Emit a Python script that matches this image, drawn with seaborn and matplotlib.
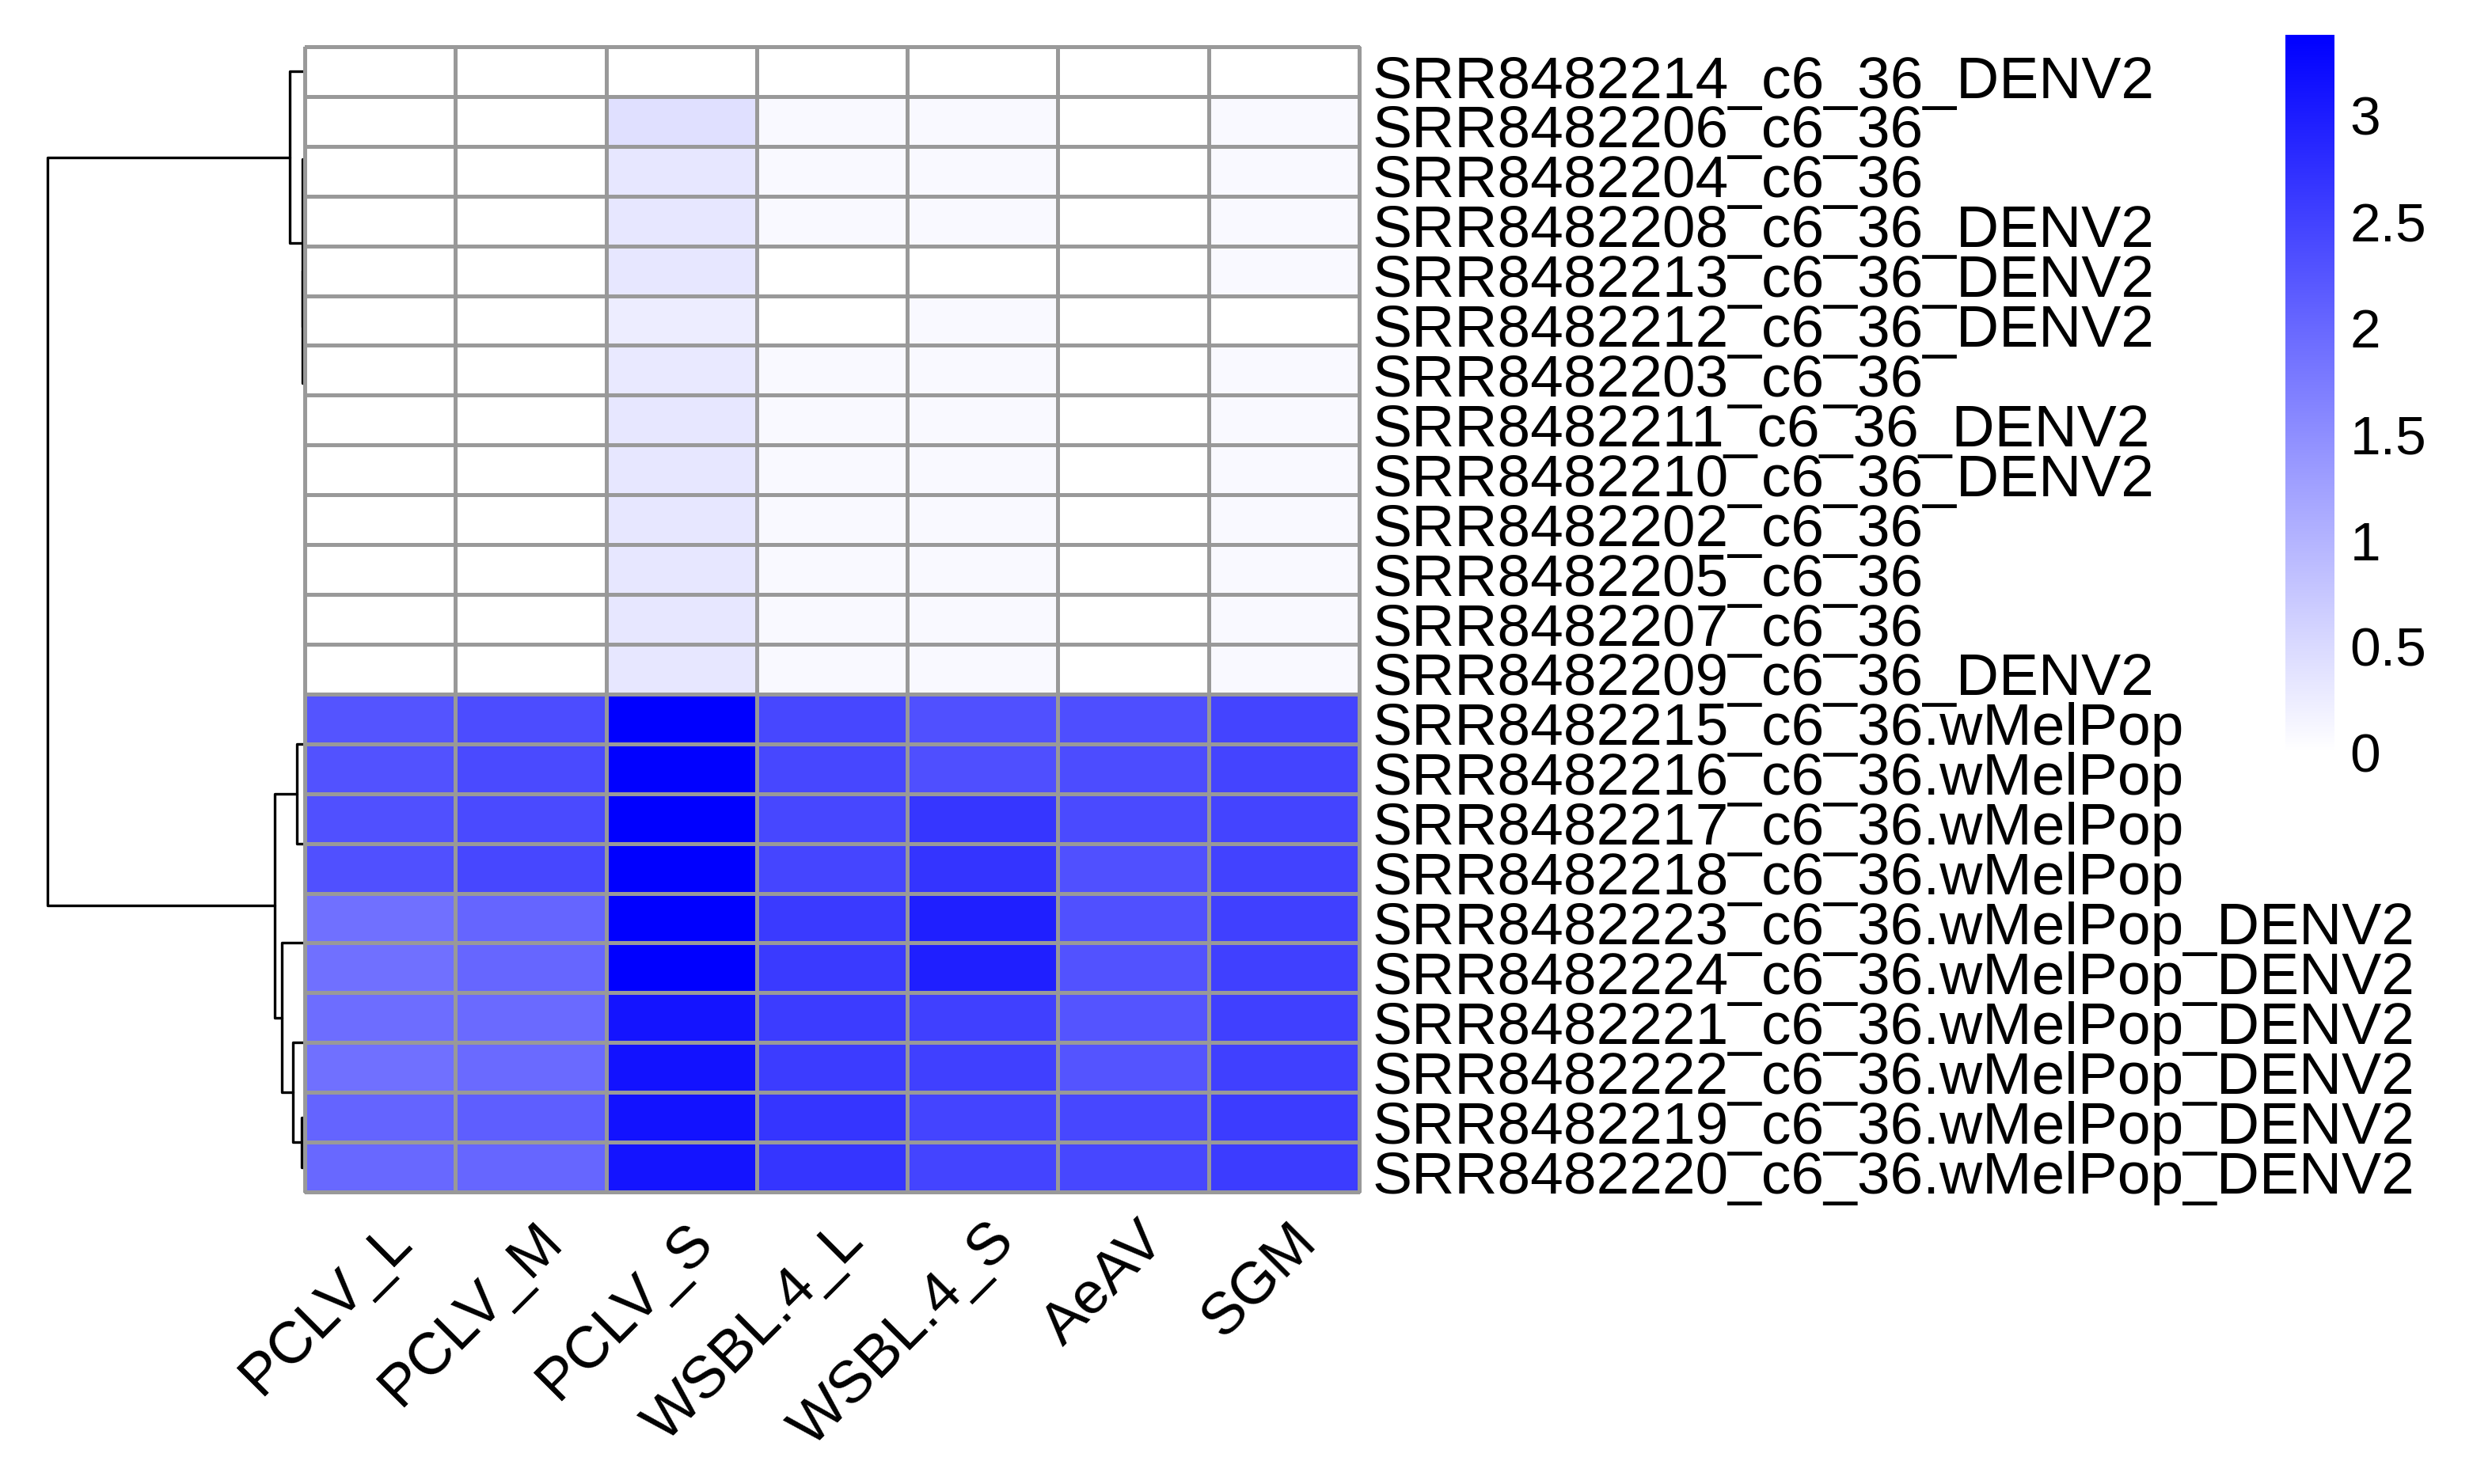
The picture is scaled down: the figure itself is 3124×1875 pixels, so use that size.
import numpy as np
import pandas as pd
import seaborn as sns
import matplotlib.pyplot as plt
from matplotlib.colors import LinearSegmentedColormap

# samples in the order shown (after clustering)
samples = [
    "SRR8482214_c6_36_DENV2", "SRR8482206_c6_36", "SRR8482204_c6_36",
    "SRR8482208_c6_36_DENV2", "SRR8482213_c6_36_DENV2", "SRR8482212_c6_36_DENV2",
    "SRR8482203_c6_36", "SRR8482211_c6_36_DENV2", "SRR8482210_c6_36_DENV2",
    "SRR8482202_c6_36", "SRR8482205_c6_36", "SRR8482207_c6_36",
    "SRR8482209_c6_36_DENV2", "SRR8482215_c6_36.wMelPop", "SRR8482216_c6_36.wMelPop",
    "SRR8482217_c6_36.wMelPop", "SRR8482218_c6_36.wMelPop",
    "SRR8482223_c6_36.wMelPop_DENV2", "SRR8482224_c6_36.wMelPop_DENV2",
    "SRR8482221_c6_36.wMelPop_DENV2", "SRR8482222_c6_36.wMelPop_DENV2",
    "SRR8482219_c6_36.wMelPop_DENV2", "SRR8482220_c6_36.wMelPop_DENV2",
]
viruses = ["PCLV_L", "PCLV_M", "PCLV_S", "WSBL.4_L", "WSBL.4_S", "AeAV", "SGM"]

pclv_l = [0, 0, 0, 0, 0, 0, 0, 0, 0, 0, 0, 0, 0,
          2.27, 2.29, 2.32, 2.32, 1.90, 1.90, 1.93, 1.90, 2.05, 2.00]
pclv_m = [0, 0, 0, 0, 0, 0, 0, 0, 0, 0, 0, 0, 0,
          2.37, 2.40, 2.40, 2.43, 2.04, 2.03, 1.98, 1.98, 2.13, 2.03]
pclv_s = [0, 0.41, 0.33, 0.33, 0.33, 0.25, 0.30, 0.33, 0.33, 0.33, 0.33, 0.33, 0.33,
          3.38, 3.36, 3.38, 3.38, 3.38, 3.38, 3.11, 3.14, 3.14, 3.11]
wsbl_l = [0, 0.09, 0.09, 0.09, 0, 0, 0.09, 0.08, 0.08, 0.08, 0.08, 0.08, 0.08,
          2.43, 2.43, 2.43, 2.46, 2.61, 2.61, 2.58, 2.58, 2.67, 2.67]
wsbl_s = [0, 0.09, 0.09, 0.09, 0, 0.08, 0.09, 0.08, 0.08, 0.08, 0.08, 0.08, 0.08,
          2.32, 2.33, 2.66, 2.69, 2.96, 2.96, 2.53, 2.53, 2.48, 2.48]
aeav = [0, 0, 0, 0, 0, 0, 0, 0, 0, 0, 0, 0, 0,
        2.35, 2.37, 2.40, 2.32, 2.32, 2.29, 2.27, 2.27, 2.43, 2.43]
sgm = [0, 0.09, 0.09, 0.09, 0.09, 0, 0.09, 0.08, 0.08, 0.08, 0.08, 0.08, 0.08,
       2.48, 2.48, 2.48, 2.50, 2.53, 2.53, 2.53, 2.53, 2.58, 2.58]

# row dendrogram (scipy-style linkage: leaves 0..22, new nodes from 23)
link_a = [2, 1, 7, 9, 11, 26, 25, 6, 5, 4, 24, 0, 13, 15, 35, 17, 19, 21, 39, 38, 37, 34]
link_b = [3, 23, 8, 10, 12, 27, 28, 29, 30, 31, 32, 33, 14, 16, 36, 18, 20, 22, 40, 41, 42, 43]
link_h = [0, 0, 0, 0, 0, 0, 0, 0, 0, 0.066, 0.066, 0.385,
          0, 0, 0.20, 0, 0, 0.086, 0.305, 0.58, 0.76, 6.5]

df = pd.DataFrame({"PCLV_L": pclv_l, "PCLV_M": pclv_m, "PCLV_S": pclv_s,
                   "WSBL.4_L": wsbl_l, "WSBL.4_S": wsbl_s, "AeAV": aeav, "SGM": sgm},
                  index=samples)[viruses]

sns.set_style("white")
plt.rcParams["font.family"] = ["Liberation Sans", "DejaVu Sans"]
plt.rcParams["text.color"] = "black"
plt.rcParams["ytick.color"] = "black"
plt.rcParams["xtick.color"] = "black"

W, H = 3124, 1875
fig = plt.figure(figsize=(W / 200, H / 200), dpi=200)
ax = fig.add_axes([385 / W, 1 - 1506 / H, 1332 / W, 1447 / H])
ax_d = fig.add_axes([50 / W, 1 - 1506 / H, 335 / W, 1447 / H])
cax = fig.add_axes([2887 / W, 1 - 951 / H, 62 / W, 907 / H])
ax.set_zorder(3)

cmap = LinearSegmentedColormap.from_list("wb", ["white", "blue"])
sns.heatmap(df, ax=ax, cmap=cmap, vmin=0, vmax=3.38, linewidths=1.1,
            linecolor="#999999", cbar_ax=cax, xticklabels=False, yticklabels=False,
            cbar_kws={"ticks": [0, 0.5, 1, 1.5, 2, 2.5, 3]})
ax.collections[0].set_clip_on(False)
ax.set_xlabel("")
ax.set_ylabel("")
n = len(samples)

# row labels on the right
for i, s in enumerate(samples):
    ax.annotate(s, xy=(len(viruses), i + 0.5), xycoords="data",
                xytext=(5.8, -11.9), textcoords="offset points",
                ha="left", va="baseline", fontsize=27, color="black",
                annotation_clip=False)

# column labels, rotated 45
for j, v in enumerate(viruses):
    ax.annotate(v, xy=(j + 0.5, n), xycoords="data",
                xytext=(1.7, -9.5), textcoords="offset points",
                ha="right", va="top", rotation=45, rotation_mode="anchor",
                fontsize=27, color="black", annotation_clip=False)

# colorbar
cbar = ax.collections[0].colorbar
cbar.outline.set_visible(False)
cbar.set_ticklabels(["0", "0.5", "1", "1.5", "2", "2.5", "3"])
cbar.ax.tick_params(length=0, labelsize=25, pad=7, labelcolor="black")

# dendrogram
pos = {i: i + 0.5 for i in range(n)}
hgt = {i: 0.0 for i in range(n)}
for k, (a, b, h) in enumerate(zip(link_a, link_b, link_h)):
    node = n + k
    ax_d.plot([hgt[a], h, h, hgt[b]], [pos[a], pos[a], pos[b], pos[b]],
              color="black", lw=1.2)
    pos[node] = (pos[a] + pos[b]) / 2
    hgt[node] = h
ax_d.set_xlim(link_h[-1] * 335 / 325, 0)
ax_d.set_ylim(n, 0)
ax_d.axis("off")

fig.savefig("out.png", dpi=200, facecolor="white")
